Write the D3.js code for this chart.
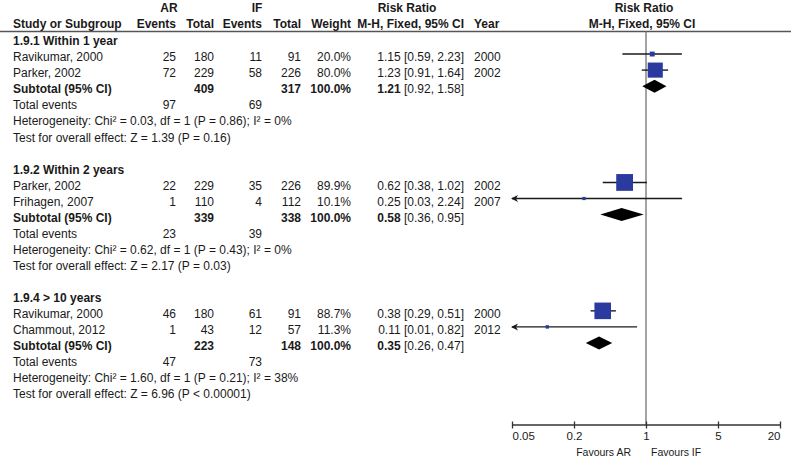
<!DOCTYPE html>
<html>
<head>
<meta charset="utf-8">
<script src="https://cdn.jsdelivr.net/npm/d3@7"></script>
<style>
  html, body { margin: 0; padding: 0; background: #fff; }
  svg { display: block; font-family: "Liberation Sans", Arial, sans-serif; }
  text { fill: #1a1a1a; }
</style>
</head>
<body>
<svg id="chart" width="793" height="460"></svg>
<script>
// ---------- DATA ----------
const groupLabels = ["1.9.1 Within 1 year", "1.9.2 Within 2 years", "1.9.4 > 10 years"];
const studyNames = ["Ravikumar, 2000", "Parker, 2002", "Parker, 2002", "Frihagen, 2007", "Ravikumar, 2000", "Chammout, 2012"];
const studyGroup = [0, 0, 1, 1, 2, 2];
const arEvents = [25, 72, 22, 1, 46, 1];
const arTotal = [180, 229, 229, 110, 180, 43];
const ifEvents = [11, 58, 35, 4, 61, 12];
const ifTotal = [91, 226, 226, 112, 91, 57];
const weights = [20.0, 80.0, 89.9, 10.1, 88.7, 11.3];
const riskRatio = [1.15, 1.23, 0.62, 0.25, 0.38, 0.11];
const ciLow = [0.59, 0.91, 0.38, 0.03, 0.29, 0.01];
const ciHigh = [2.23, 1.64, 1.02, 2.24, 0.51, 0.82];
const years = [2000, 2002, 2002, 2007, 2000, 2012];

const subArTotal = [409, 339, 223];
const subIfTotal = [317, 338, 148];
const subRR = [1.21, 0.58, 0.35];
const subLow = [0.92, 0.36, 0.26];
const subHigh = [1.58, 0.95, 0.47];
const totalArEvents = [97, 23, 47];
const totalIfEvents = [69, 39, 73];
const heterogeneity = [
  "Heterogeneity: Chi\u00B2 = 0.03, df = 1 (P = 0.86); I\u00B2 = 0%",
  "Heterogeneity: Chi\u00B2 = 0.62, df = 1 (P = 0.43); I\u00B2 = 0%",
  "Heterogeneity: Chi\u00B2 = 1.60, df = 1 (P = 0.21); I\u00B2 = 38%"
];
const overallEffect = [
  "Test for overall effect: Z = 1.39 (P = 0.16)",
  "Test for overall effect: Z = 2.17 (P = 0.03)",
  "Test for overall effect: Z = 6.96 (P < 0.00001)"
];
const tickValues = [0.05, 0.2, 1, 5, 20];

// ---------- LAYOUT ----------
const svg = d3.select("#chart");
const x = d3.scaleLog().domain([0.05, 20]).range([512, 780]);
const sizeScale = d3.scaleLinear().domain([0, 100]).range([1.5, 18.5]);
const rowY = i => 41 + 16.05 * i;
const markOff = -3;
const blue = "#2b3a9e";
const fmt2 = d3.format(".2f");
const fmtW = d3.format(".1f");

// column right-edges
const col = { name: 13, arE: 176, arT: 214, ifE: 262, ifT: 301, wt: 351, ci: 464, year: 474 };

function txt(xp, yp, s, opts = {}) {
  return svg.append("text")
    .attr("x", xp).attr("y", yp).attr("dy", "0.35em")
    .attr("text-anchor", opts.anchor || "start")
    .attr("font-size", opts.size || 12)
    .attr("font-weight", opts.bold ? "bold" : "normal")
    .text(s);
}

// headers
txt(169, 8, "AR", { anchor: "middle", bold: true });
txt(257, 8, "IF", { anchor: "middle", bold: true });
txt(407, 8, "Risk Ratio", { anchor: "middle", bold: true });
txt(644, 8, "Risk Ratio", { anchor: "middle", bold: true });
txt(col.name, 24, "Study or Subgroup", { bold: true });
txt(col.arE, 24, "Events", { anchor: "end", bold: true });
txt(col.arT, 24, "Total", { anchor: "end", bold: true });
txt(col.ifE, 24, "Events", { anchor: "end", bold: true });
txt(col.ifT, 24, "Total", { anchor: "end", bold: true });
txt(col.wt, 24, "Weight", { anchor: "end", bold: true });
txt(col.ci, 24, "M-H, Fixed, 95% CI", { anchor: "end", bold: true });
txt(col.year, 24, "Year", { bold: true });
txt(642, 24, "M-H, Fixed, 95% CI", { anchor: "middle", bold: true });

// header rule
svg.append("line").attr("x1", 0).attr("x2", 791).attr("y1", 31.5).attr("y2", 31.5)
  .attr("stroke", "#555").attr("stroke-width", 1.6);

// null line
svg.append("line").attr("x1", x(1)).attr("x2", x(1)).attr("y1", 31).attr("y2", 425)
  .attr("stroke", "#666").attr("stroke-width", 1.2);

// rows
const plot = svg.append("g");
groupLabels.forEach((g, gi) => {
  const base = gi * 8;
  txt(col.name, rowY(base), g, { bold: true });
  const idx = studyGroup.map((v, i) => v === gi ? i : -1).filter(i => i >= 0);
  idx.forEach((si, k) => {
    const r = base + 1 + k;
    const y = rowY(r);
    txt(col.name, y, studyNames[si]);
    txt(col.arE, y, arEvents[si], { anchor: "end" });
    txt(col.arT, y, arTotal[si], { anchor: "end" });
    txt(col.ifE, y, ifEvents[si], { anchor: "end" });
    txt(col.ifT, y, ifTotal[si], { anchor: "end" });
    txt(col.wt, y, fmtW(weights[si]) + "%", { anchor: "end" });
    txt(col.ci, y, `${fmt2(riskRatio[si])} [${fmt2(ciLow[si])}, ${fmt2(ciHigh[si])}]`, { anchor: "end" });
    txt(col.year, y, years[si]);

    // CI line
    const my = y + markOff;
    const lo = Math.max(ciLow[si], x.domain()[0]);
    const hi = Math.min(ciHigh[si], x.domain()[1]);
    plot.append("line").attr("x1", x(lo)).attr("x2", x(hi)).attr("y1", my).attr("y2", my)
      .attr("stroke", "#1a1a1a").attr("stroke-width", 1.4);
    if (ciLow[si] < x.domain()[0]) {
      const ax = x(x.domain()[0]) - 1;
      plot.append("path")
        .attr("d", `M${ax},${my} L${ax + 7},${my - 3.5} L${ax + 5},${my} L${ax + 7},${my + 3.5} Z`)
        .attr("fill", "#1a1a1a");
    }
    const s = sizeScale(weights[si]);
    plot.append("rect").attr("x", x(riskRatio[si]) - s / 2).attr("y", my - s / 2)
      .attr("width", s).attr("height", s).attr("fill", blue);
  });
  // subtotal
  const rs = base + 3;
  const ys = rowY(rs);
  txt(col.name, ys, "Subtotal (95% CI)", { bold: true });
  txt(col.arT, ys, subArTotal[gi], { anchor: "end", bold: true });
  txt(col.ifT, ys, subIfTotal[gi], { anchor: "end", bold: true });
  txt(col.wt, ys, "100.0%", { anchor: "end", bold: true });
  const ciT = svg.append("text").attr("x", col.ci).attr("y", ys).attr("dy", "0.35em")
    .attr("text-anchor", "end").attr("font-size", 12);
  ciT.append("tspan").attr("font-weight", "bold").text(fmt2(subRR[gi]) + " ");
  ciT.append("tspan").text(`[${fmt2(subLow[gi])}, ${fmt2(subHigh[gi])}]`);
  const dy = ys + markOff;
  const dh = 6.5;
  plot.append("path")
    .attr("d", `M${x(subLow[gi])},${dy} L${x(subRR[gi])},${dy - dh} L${x(subHigh[gi])},${dy} L${x(subRR[gi])},${dy + dh} Z`)
    .attr("fill", "#000");
  // totals
  const yt = rowY(base + 4);
  txt(col.name, yt, "Total events");
  txt(col.arE, yt, totalArEvents[gi], { anchor: "end" });
  txt(col.ifE, yt, totalIfEvents[gi], { anchor: "end" });
  txt(col.name, rowY(base + 5), heterogeneity[gi]);
  txt(col.name, rowY(base + 6), overallEffect[gi]);
});

// axis
const axisY = 425;
const axis = d3.axisBottom(x).tickValues(tickValues).tickFormat(d => String(d))
  .tickSizeInner(3).tickSizeOuter(0);
const ag = svg.append("g").attr("transform", `translate(0,${axisY})`).call(axis);
ag.select(".domain").attr("stroke", "#333").attr("stroke-width", 1.4).attr("d", `M${x(0.05)},0H${x(20)}`);
ag.selectAll(".tick line").attr("y1", -3.5).attr("y2", 3.5).attr("stroke", "#333").attr("stroke-width", 1.3);
ag.selectAll(".tick text")
  .attr("y", 11).attr("dy", "0.35em")
  .attr("font-size", 11.5).attr("font-family", "Liberation Sans, Arial, sans-serif")
  .attr("fill", "#1a1a1a")
  .attr("text-anchor", (d, i) => i === 0 ? "start" : (i === tickValues.length - 1 ? "end" : "middle"));

txt(631, 452, "Favours AR", { anchor: "end", size: 10.5 });
txt(651, 452, "Favours IF", { size: 10.5 });
</script>
</body>
</html>
